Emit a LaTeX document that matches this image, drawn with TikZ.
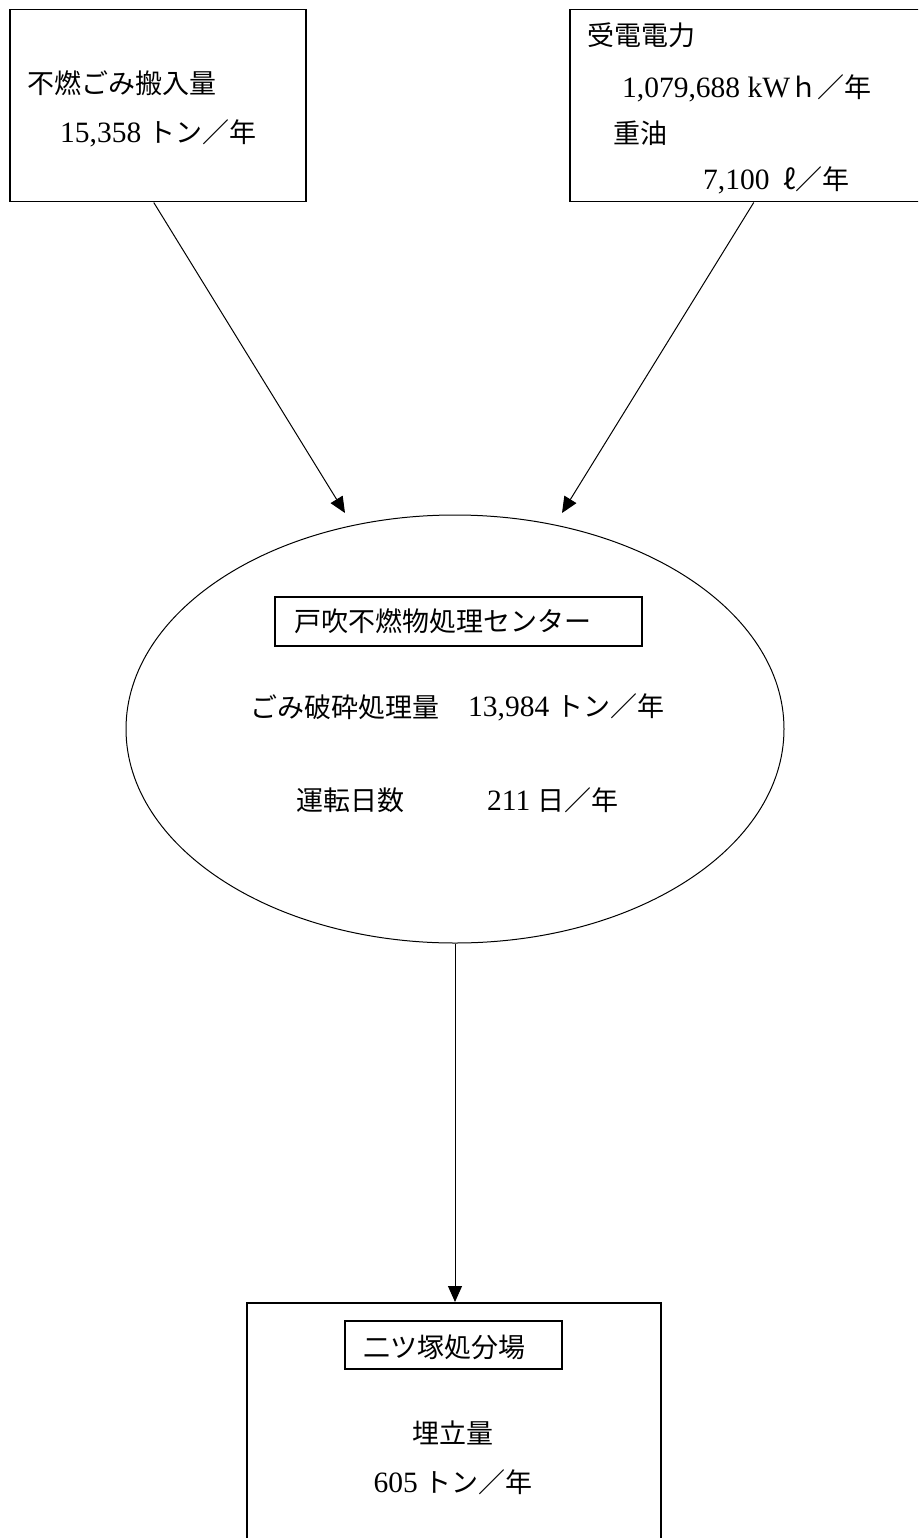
\documentclass[tikz,border=0pt]{standalone}
\usepackage{fontspec}
\setmainfont{Liberation Serif}
\newfontfamily\jp{Noto Sans CJK JP}
\usetikzlibrary{shapes.geometric,arrows.meta}
\newcommand\J[1]{{\jp #1}}
\newcommand\Nm[1]{{\fontsize{29.5}{32}\selectfont #1}}
\begin{document}
\begin{tikzpicture}[x=1pt,y=-1pt,
  box/.style={draw, line width=1.5pt, inner sep=0pt, anchor=north west},
  tagbox/.style={draw, line width=1.4pt, inner sep=0pt},
  lbl/.style={inner sep=0pt, anchor=west, font=\fontsize{27}{32}\selectfont},
  ctr/.style={inner sep=0pt, anchor=center, font=\fontsize{27}{32}\selectfont},
  conn/.style={line width=1pt, -{Triangle[length=16pt,width=14pt]}}]
\useasboundingbox (0,0) rectangle (918,1538);
\clip (0,0) rectangle (918,1538);
% boxes
\node[box, minimum width=296pt, minimum height=192pt] (inbox) at (9,9) {};
\node[box, minimum width=368pt, minimum height=192pt] (enbox) at (569,9) {};
\node[draw, ellipse, line width=1pt, minimum width=658pt, minimum height=428pt, inner sep=0pt] (center) at (455,729) {};
\node[box, minimum width=414pt, minimum height=280pt] (outbox) at (246,1302) {};
\node[tagbox, minimum width=367pt, minimum height=49pt] (ctag) at (458.5,621.5) {};
\node[tagbox, minimum width=217pt, minimum height=48pt] (otag) at (453.5,1345) {};
% texts: input box
\node[lbl] (t1) at (27,83) {\J{不燃ごみ搬入量}};
\node[lbl] (t2) at (60,133) {\Nm{15,358} \J{トン／年}};
% texts: energy box
\node[lbl] (e1) at (587,35) {\J{受電電力}};
\node[lbl] (e2) at (622,88) {\Nm{1,079,688 kW}\J{ｈ／年}};
\node[lbl] (e3) at (613,133) {\J{重油}};
\node[lbl] (e4) at (703,180) {\Nm{7,100}\hspace{14pt}\J{ℓ／年}};
% texts: centre
\node[lbl] (c1) at (294,621.5) {\J{戸吹不燃物処理センター}};
\node[lbl] (c2) at (250,707) {\J{ごみ破砕処理量}};
\node[lbl] (c3) at (468,707) {\Nm{13,984} \J{トン／年}};
\node[lbl] (c4) at (296,800) {\J{運転日数}};
\node[lbl] (c5) at (487,800) {\Nm{211} \J{日／年}};
% texts: output box
\node[ctr] (o1) at (444,1347) {\J{二ツ塚処分場}};
\node[ctr] (o2) at (453,1433) {\J{埋立量}};
\node[ctr] (o3) at (453,1482) {\Nm{605} \J{トン／年}};
% connectors
\coordinate (tipL) at (345,513);
\coordinate (tipR) at (562,513);
\draw[conn] ([xshift=-4pt]inbox.south) -- (tipL);
\draw[conn] (enbox.south) -- (tipR);
\draw[conn] (center.south) -- (center.south |- outbox.north);
\end{tikzpicture}
\end{document}
